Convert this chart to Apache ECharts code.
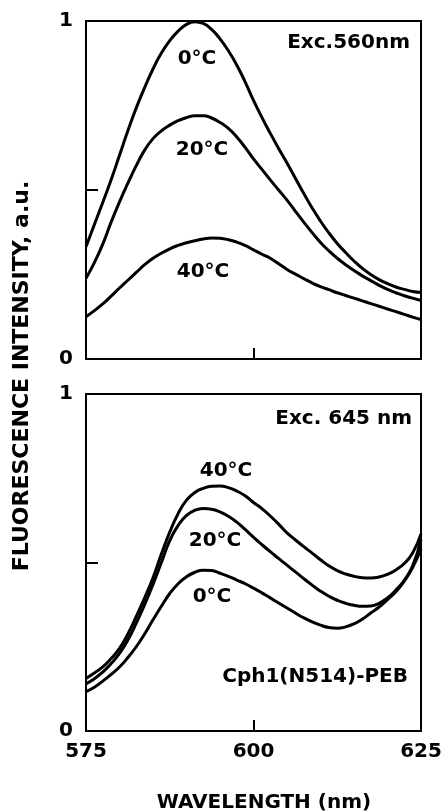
<!DOCTYPE html>
<html>
<head>
<meta charset="utf-8">
<script src="https://cdn.jsdelivr.net/npm/echarts@6/dist/echarts.min.js"></script>
<style>
	html, body { margin: 0; padding: 0; background: #fff; }
	#main { width: 446px; height: 811px; }
</style>
</head>
<body>
<div id="main"></div>
<script>
// wavelength (nm)
var wl = [575, 576.25, 577.5, 578.75, 580, 581.25, 582.5, 583.75, 585, 586.25,
	587.5, 588.75, 590, 591.25, 592.5, 593.75, 595, 596.25, 597.5, 598.75,
	600, 601.25, 602.5, 603.75, 605, 606.25, 607.5, 608.75, 610, 611.25,
	612.5, 613.75, 615, 616.25, 617.5, 618.75, 620, 621.25, 622.5, 623.75, 625];

// Exc. 560 nm
var top0 = [0.332, 0.398, 0.463, 0.53, 0.603, 0.675, 0.743, 0.803, 0.858, 0.905,
	0.942, 0.97, 0.99, 0.998, 0.993, 0.975, 0.947, 0.912, 0.87, 0.82,
	0.765, 0.715, 0.668, 0.623, 0.58, 0.535, 0.49, 0.447, 0.408, 0.373,
	0.342, 0.315, 0.29, 0.268, 0.25, 0.235, 0.223, 0.213, 0.206, 0.2, 0.197];
var top20 = [0.239, 0.285, 0.34, 0.405, 0.465, 0.52, 0.572, 0.618, 0.652, 0.675,
	0.692, 0.705, 0.714, 0.72, 0.72, 0.713, 0.70, 0.682, 0.657, 0.626,
	0.592, 0.561, 0.53, 0.5, 0.47, 0.437, 0.405, 0.374, 0.345, 0.32,
	0.298, 0.279, 0.262, 0.246, 0.232, 0.218, 0.206, 0.196, 0.187, 0.18, 0.173];
var top40 = [0.125, 0.143, 0.163, 0.186, 0.21, 0.233, 0.256, 0.279, 0.298, 0.313,
	0.326, 0.336, 0.344, 0.35, 0.355, 0.358, 0.357, 0.353, 0.346, 0.336,
	0.323, 0.31, 0.298, 0.282, 0.265, 0.251, 0.238, 0.225, 0.214, 0.205,
	0.196, 0.188, 0.18, 0.172, 0.164, 0.156, 0.148, 0.14, 0.132, 0.124, 0.117];

// Exc. 645 nm
var bot0 = [0.117, 0.13, 0.148, 0.168, 0.19, 0.218, 0.25, 0.288, 0.33, 0.37,
	0.408, 0.437, 0.458, 0.471, 0.477, 0.476, 0.468, 0.459, 0.448, 0.437,
	0.424, 0.41, 0.395, 0.38, 0.365, 0.35, 0.336, 0.324, 0.314, 0.307,
	0.305, 0.309, 0.318, 0.332, 0.35, 0.368, 0.39, 0.413, 0.445, 0.485, 0.54];
var bot20 = [0.14, 0.155, 0.175, 0.2, 0.23, 0.27, 0.32, 0.375, 0.435, 0.5,
	0.565, 0.61, 0.64, 0.655, 0.66, 0.658, 0.65, 0.637, 0.62, 0.598,
	0.575, 0.553, 0.532, 0.512, 0.492, 0.472, 0.452, 0.433, 0.415, 0.4,
	0.388, 0.379, 0.373, 0.37, 0.371, 0.379, 0.395, 0.418, 0.447, 0.49, 0.568];
var bot40 = [0.156, 0.172, 0.19, 0.215, 0.245, 0.288, 0.34, 0.395, 0.455, 0.525,
	0.59, 0.645, 0.685, 0.708, 0.72, 0.726, 0.727, 0.722, 0.712, 0.698,
	0.678, 0.66, 0.638, 0.614, 0.588, 0.567, 0.547, 0.528, 0.508, 0.49,
	0.476, 0.466, 0.459, 0.455, 0.454, 0.457, 0.465, 0.478, 0.497, 0.528, 0.585];

var xTicks = [575, 600, 625];
var yTicks = [0, 1];

var font = 'DejaVu Sans';

function pairs(ys) {
	var out = [];
	for (var i = 0; i < wl.length; i++) {
		out.push([wl[i], ys[i]]);
	}
	return out;
}

function curve(idx, ys) {
	return {
		type: 'line',
		xAxisIndex: idx,
		yAxisIndex: idx,
		smooth: 0.5,
		symbol: 'none',
		silent: true,
		lineStyle: { color: '#000', width: 3 },
		data: pairs(ys)
	};
}

function xAxis(idx, showLabel) {
	return {
		type: 'value',
		gridIndex: idx,
		min: 575,
		max: 625,
		interval: 25,
		axisLine: { show: false },
		axisTick: { show: true, inside: true, length: 11, lineStyle: { color: '#000', width: 2 } },
		splitLine: { show: false },
		axisLabel: {
			show: showLabel,
			margin: 11,
			color: '#000',
			fontFamily: font,
			fontWeight: 'bold',
			fontSize: 20,
			formatter: function(v) {
				return xTicks.indexOf(v) >= 0 ? String(v) : '';
			}
		}
	};
}

function yAxis(idx) {
	return {
		type: 'value',
		gridIndex: idx,
		min: 0,
		max: 1,
		interval: 0.5,
		axisLine: { show: false },
		axisTick: { show: true, inside: true, length: 12, lineStyle: { color: '#000', width: 2 } },
		splitLine: { show: false },
		axisLabel: {
			margin: 13,
			color: '#000',
			fontFamily: font,
			fontWeight: 'bold',
			fontSize: 20,
			formatter: function(v) {
				return yTicks.indexOf(v) >= 0 ? String(v) : '';
			}
		}
	};
}

function label(text, x, y, align, size, rot) {
	return {
		type: 'text',
		x: x,
		y: y,
		rotation: rot || 0,
		silent: true,
		style: {
			text: text,
			fill: '#000',
			fontFamily: font,
			fontWeight: 'bold',
			fontSize: size || 20,
			align: align || 'center',
			verticalAlign: 'middle'
		}
	};
}

var gridStyle = { show: true, borderColor: '#000', borderWidth: 2, backgroundColor: 'transparent' };

var chart = echarts.init(document.getElementById('main'));
chart.setOption({
	animation: false,
	backgroundColor: '#fff',
	grid: [
		Object.assign({ left: 86, width: 335, top: 21, height: 338 }, gridStyle),
		Object.assign({ left: 86, width: 335, top: 394, height: 337 }, gridStyle)
	],
	xAxis: [xAxis(0, false), xAxis(1, true)],
	yAxis: [yAxis(0), yAxis(1)],
	series: [
		curve(0, top0), curve(0, top20), curve(0, top40),
		curve(1, bot0), curve(1, bot20), curve(1, bot40)
	],
	graphic: [
		// top panel
		label('Exc.560nm', 410, 43, 'right'),
		label('0°C', 197, 59),
		label('20°C', 202, 150),
		label('40°C', 203, 272),
		// bottom panel
		label('Exc. 645 nm', 412, 419, 'right'),
		label('40°C', 226, 471),
		label('20°C', 215, 541),
		label('0°C', 212, 597),
		label('Cph1(N514)-PEB', 408, 677, 'right'),
		// axis titles
		label('WAVELENGTH (nm)', 264, 803),
		label('FLUORESCENCE INTENSITY, a.u.', 22, 376, 'center', 22, Math.PI / 2)
	]
});
</script>
</body>
</html>
